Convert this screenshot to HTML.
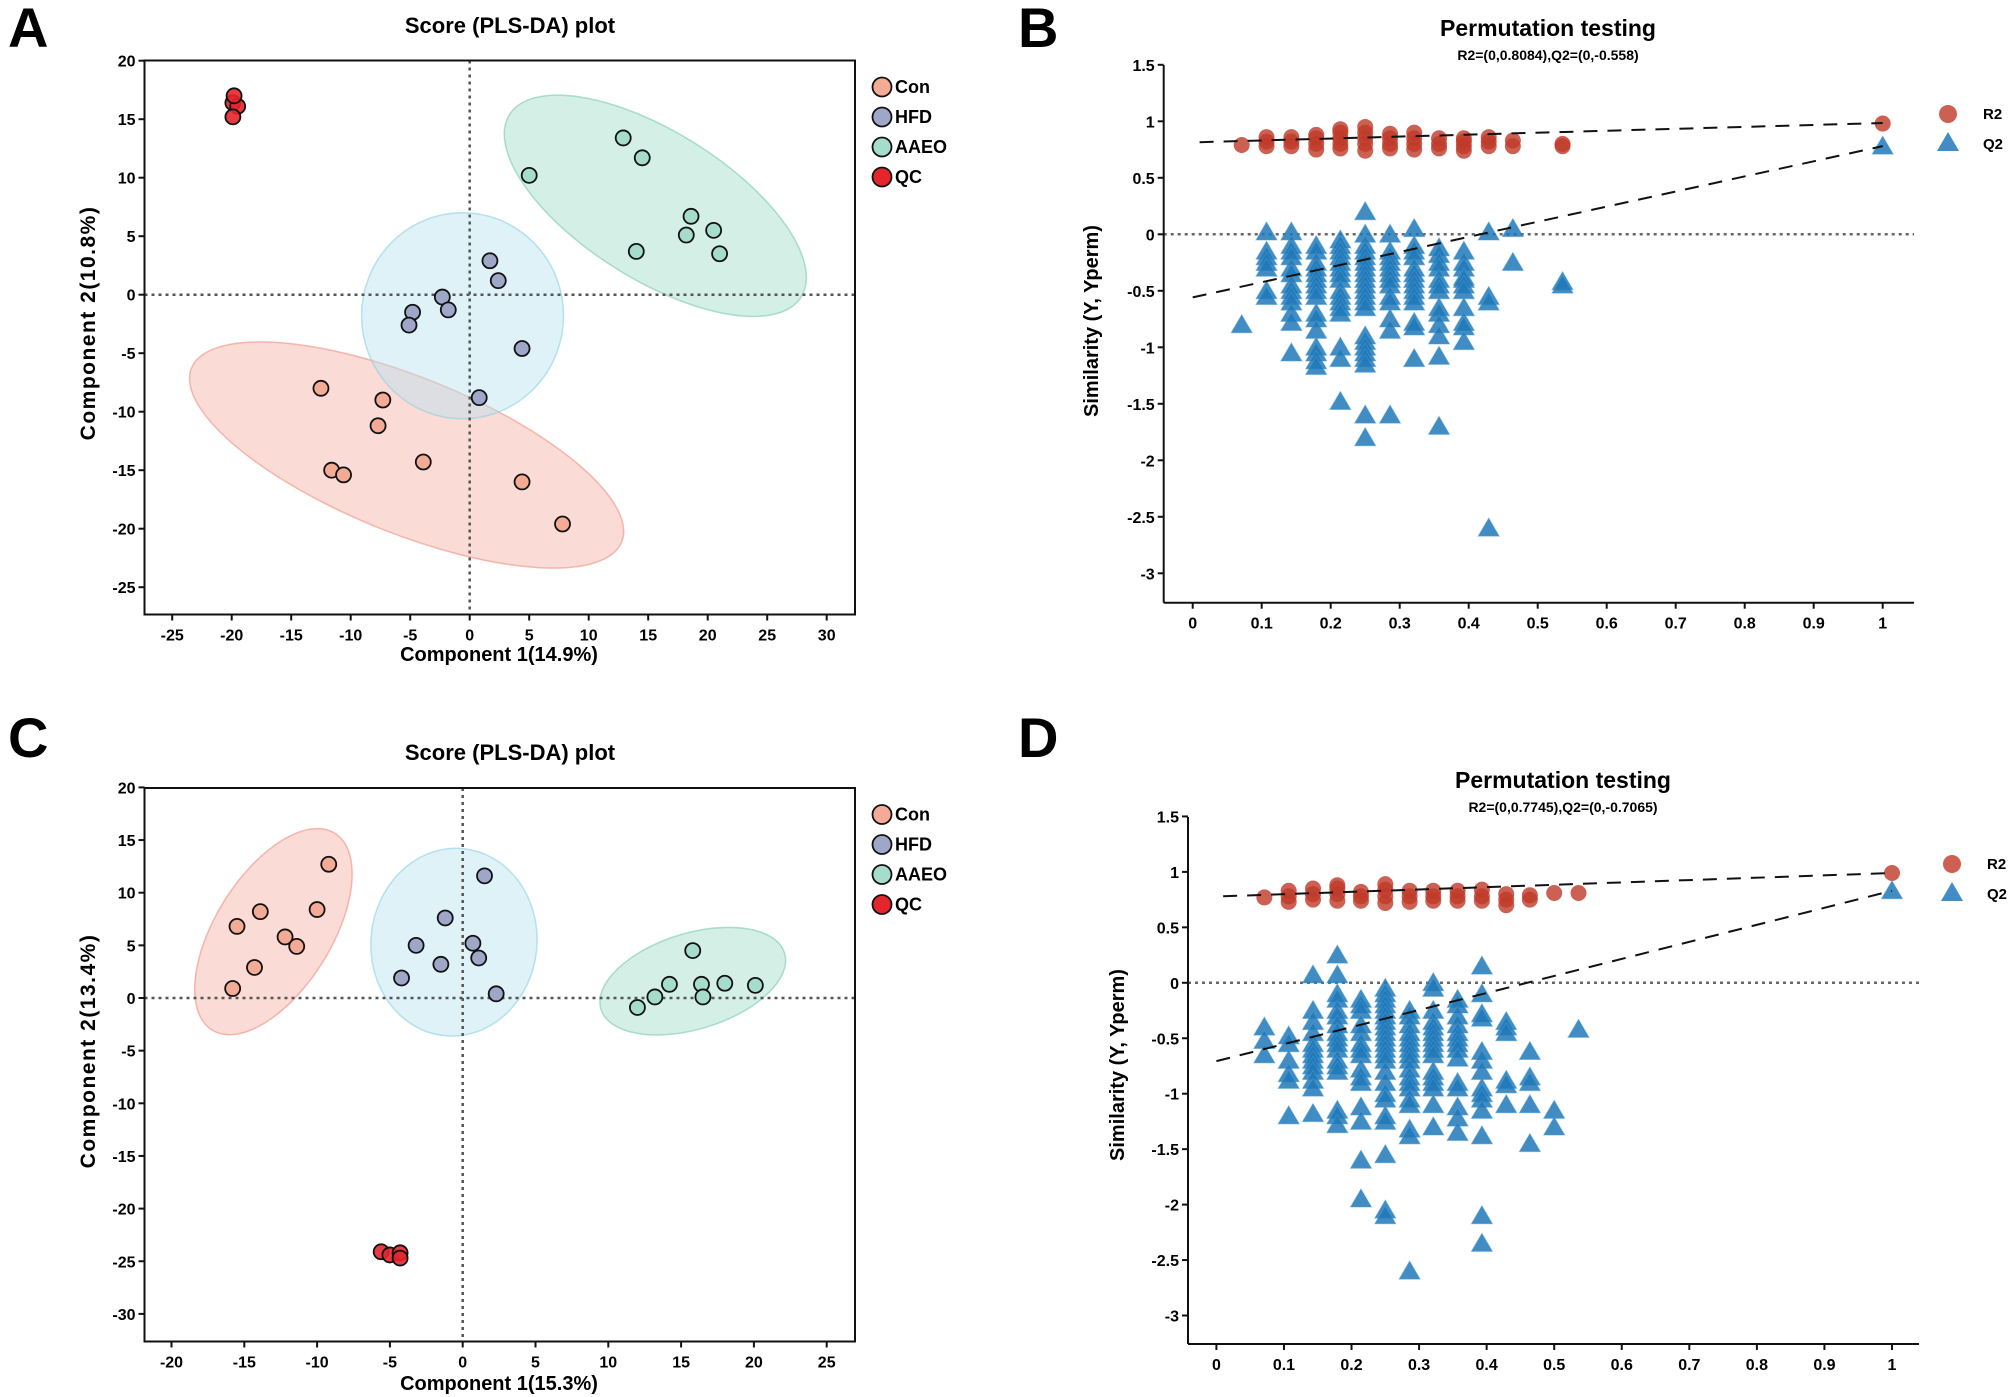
<!DOCTYPE html>
<html><head><meta charset="utf-8"><style>
html,body{margin:0;padding:0;background:#fff;}
svg{display:block;font-family:"Liberation Sans",Arial,sans-serif;}
</style></head><body>
<svg id="fig" width="2008" height="1397" viewBox="0 0 2008 1397" xmlns="http://www.w3.org/2000/svg">
<text x="8" y="47" font-size="56" font-weight="bold">A</text>
<text x="1018" y="47" font-size="56" font-weight="bold">B</text>
<text x="8" y="757" font-size="56" font-weight="bold">C</text>
<text x="1018" y="757" font-size="56" font-weight="bold">D</text>
</svg>
<script>
// ---------- Panel A data ----------
const aConX=[-12.5,-7.3,-7.7,-3.9,-11.6,-10.6,4.4,7.8];
const aConY=[-8,-9,-11.2,-14.3,-15,-15.4,-16,-19.6];
const aHfdX=[1.7,2.4,-2.3,-4.8,-1.8,-5.1,4.4,0.8];
const aHfdY=[2.9,1.2,-0.2,-1.5,-1.3,-2.6,-4.6,-8.8];
const aAaeoX=[12.9,14.5,5,18.6,20.5,18.2,14,21];
const aAaeoY=[13.4,11.7,10.2,6.7,5.5,5.1,3.7,3.5];
const aQcX=[-19.9,-19.5,-19.9,-19.8];
const aQcY=[16.4,16.1,15.2,17];
const aXTicks=[-25,-20,-15,-10,-5,0,5,10,15,20,25,30];
const aYTicks=[20,15,10,5,0,-5,-10,-15,-20,-25];
// ---------- Panel C data ----------
const cConX=[-9.2,-13.9,-10,-15.5,-12.2,-11.4,-14.3,-15.8];
const cConY=[12.7,8.2,8.4,6.8,5.8,4.9,2.9,0.9];
const cHfdX=[1.5,-1.2,-3.2,0.7,1.1,-1.5,-4.2,2.3];
const cHfdY=[11.6,7.6,5.0,5.2,3.8,3.2,1.9,0.4];
const cAaeoX=[15.8,14.2,16.4,18,20.1,13.2,16.5,12];
const cAaeoY=[4.5,1.3,1.3,1.4,1.2,0.1,0.1,-0.9];
const cQcX=[-5.6,-5,-4.3,-4.3];
const cQcY=[-24.1,-24.4,-24.2,-24.7];
const cXTicks=[-20,-15,-10,-5,0,5,10,15,20,25];
const cYTicks=[20,15,10,5,0,-5,-10,-15,-20,-25,-30];
// ---------- Panel B data ----------
const bCols=[0.071,0.107,0.143,0.179,0.214,0.25,0.286,0.321,0.357,0.393,0.429,0.464,0.536,1];
const bQ2=[[-0.8],[0.02,-0.15,-0.2,-0.25,-0.3,-0.5,-0.55],[0.02,-0.1,-0.15,-0.2,-0.3,-0.35,-0.45,-0.5,-0.55,-0.6,-0.7,-0.78,-1.05],[-0.1,-0.15,-0.25,-0.3,-0.35,-0.4,-0.45,-0.5,-0.55,-0.7,-0.75,-0.85,-1.0,-1.05,-1.12,-1.17],[-0.05,-0.1,-0.15,-0.2,-0.25,-0.3,-0.35,-0.4,-0.5,-0.55,-0.6,-0.65,-0.7,-1.0,-1.1,-1.48],[0.2,0.0,-0.1,-0.15,-0.2,-0.25,-0.3,-0.35,-0.4,-0.45,-0.5,-0.55,-0.6,-0.65,-0.9,-0.95,-1.0,-1.05,-1.1,-1.15,-1.6,-1.8],[0.0,-0.15,-0.2,-0.25,-0.3,-0.35,-0.4,-0.45,-0.55,-0.6,-0.75,-0.85,-1.6],[0.05,-0.1,-0.15,-0.2,-0.3,-0.35,-0.4,-0.45,-0.5,-0.55,-0.6,-0.78,-0.82,-1.1],[-0.12,-0.18,-0.25,-0.3,-0.4,-0.45,-0.5,-0.65,-0.7,-0.8,-0.9,-1.08,-1.7],[-0.15,-0.25,-0.3,-0.38,-0.4,-0.45,-0.5,-0.65,-0.78,-0.82,-0.95],[0.02,-0.55,-0.6,-2.6],[0.05,-0.25],[-0.42,-0.45],[0.78]];
const bR2=[[0.79],[0.78,0.82,0.86],[0.78,0.82,0.86],[0.75,0.8,0.85,0.88],[0.76,0.8,0.85,0.9,0.93],[0.74,0.8,0.85,0.9,0.95],[0.76,0.8,0.85,0.89],[0.75,0.8,0.85,0.9],[0.76,0.8,0.85],[0.74,0.78,0.82,0.85],[0.78,0.82,0.86],[0.78,0.83],[0.78,0.8],[0.98]];
const bR2Line=[0.01,0.815,1,0.985];
const bQ2Line=[0,-0.558,1,0.78];
const bXTicks=[0,0.1,0.2,0.3,0.4,0.5,0.6,0.7,0.8,0.9,1];
const bYTicks=[1.5,1,0.5,0,-0.5,-1,-1.5,-2,-2.5,-3];
// ---------- Panel D data ----------
const dCols=[0.071,0.107,0.143,0.179,0.214,0.25,0.286,0.321,0.357,0.393,0.429,0.464,0.5,0.536,1];
const dQ2=[[-0.4,-0.52,-0.65],[-0.48,-0.55,-0.7,-0.82,-0.88,-1.2],[0.07,-0.25,-0.35,-0.45,-0.55,-0.6,-0.65,-0.7,-0.75,-0.8,-0.88,-0.95,-1.18],[0.25,0.07,-0.1,-0.15,-0.25,-0.3,-0.38,-0.45,-0.5,-0.55,-0.6,-0.7,-0.75,-0.8,-1.15,-1.2,-1.28],[-0.15,-0.2,-0.25,-0.38,-0.45,-0.55,-0.6,-0.65,-0.78,-0.85,-0.9,-1.12,-1.25,-1.6,-1.95],[-0.05,-0.1,-0.15,-0.2,-0.25,-0.3,-0.35,-0.4,-0.45,-0.5,-0.55,-0.6,-0.65,-0.7,-0.8,-0.9,-1.0,-1.05,-1.2,-1.25,-1.55,-2.05,-2.1],[-0.25,-0.3,-0.38,-0.45,-0.5,-0.55,-0.6,-0.65,-0.7,-0.78,-0.85,-0.9,-0.95,-1.05,-1.1,-1.32,-1.38,-2.6],[0.0,-0.05,-0.25,-0.35,-0.4,-0.45,-0.5,-0.55,-0.6,-0.65,-0.8,-0.85,-0.9,-0.95,-1.1,-1.3],[-0.15,-0.2,-0.3,-0.38,-0.45,-0.5,-0.55,-0.6,-0.68,-0.9,-0.95,-1.12,-1.22,-1.35],[0.15,-0.1,-0.28,-0.32,-0.62,-0.7,-0.8,-0.95,-1.0,-1.05,-1.15,-1.38,-2.1,-2.35],[-0.35,-0.4,-0.45,-0.88,-0.92,-1.1],[-0.62,-0.85,-0.9,-1.1,-1.45],[-1.15,-1.3],[-0.42],[0.83]];
const dR2=[[0.77],[0.73,0.78,0.83],[0.75,0.8,0.85],[0.74,0.8,0.85,0.88],[0.74,0.78,0.82],[0.72,0.78,0.84,0.89],[0.73,0.78,0.83],[0.74,0.78,0.83],[0.74,0.78,0.83],[0.74,0.78,0.84],[0.7,0.75,0.8],[0.75,0.79],[0.81],[0.81],[0.99]];
const dR2Line=[0.01,0.78,1,0.99];
const dQ2Line=[0,-0.7065,1,0.83];
const dXTicks=[0,0.1,0.2,0.3,0.4,0.5,0.6,0.7,0.8,0.9,1];
const dYTicks=[1.5,1,0.5,0,-0.5,-1,-1.5,-2,-2.5,-3];

const NS='http://www.w3.org/2000/svg';
const svg=document.getElementById('fig');
function mk(tag,attrs,parent,txt){const e=document.createElementNS(NS,tag);for(const k in attrs)e.setAttribute(k,attrs[k]);if(txt!==undefined)e.textContent=txt;(parent||svg).appendChild(e);return e;}
const COL={con:'#f4ab96',hfd:'#9ea7c7',aaeo:'#a6dccb',qc:'#e4262c'};

function scorePanel(o){
  const g=mk('g',{});
  
  
  const sx=v=>o.x0+v*o.kx, sy=v=>o.y0-v*o.ky;
  o.ell.forEach(e=>{
    const el=mk('ellipse',{cx:sx(e[0]),cy:sy(e[1]),rx:e[2],ry:e[3],transform:`rotate(${e[4]} ${sx(e[0])} ${sy(e[1])})`,fill:e[5],'fill-opacity':0.45,stroke:e[6],'stroke-opacity':0.6,'stroke-width':1.5},g);
    
    
  });
  let z=mk('line',{x1:o.L,x2:o.R,y1:sy(0),y2:sy(0),stroke:'#555','stroke-width':2.5,'stroke-dasharray':'3 4'},g);
  
  
  z=mk('line',{x1:sx(0),x2:sx(0),y1:o.T,y2:o.B,stroke:'#555','stroke-width':2.5,'stroke-dasharray':'3 4'},g);
  
  
  o.groups.forEach(gr=>{
    gr[0].forEach((xv,i)=>{
      const c=mk('circle',{cx:sx(xv),cy:sy(gr[1][i]),r:7.5,fill:gr[2],stroke:'#111','stroke-width':1.8,'fill-opacity':gr[3]==='qc'?0.9:1},g);
      
      
    });
  });
  const f=mk('rect',{x:o.L,y:o.T,width:o.R-o.L,height:o.B-o.T,fill:'none',stroke:'#111','stroke-width':2},g);
  
  
  o.xt.forEach(v=>{
    mk('line',{x1:sx(v),x2:sx(v),y1:o.B,y2:o.B+6,stroke:'#111','stroke-width':2},g);
    const t=mk('text',{x:sx(v),y:o.B+26,'text-anchor':'middle','font-size':16,'font-weight':'bold'},g,String(v));
    
    
  });
  o.yt.forEach(v=>{
    mk('line',{x1:o.L-6,x2:o.L,y1:sy(v),y2:sy(v),stroke:'#111','stroke-width':2},g);
    const t=mk('text',{x:o.L-9,y:sy(v)+6,'text-anchor':'end','font-size':16,'font-weight':'bold'},g,String(v));
    
    
  });
  let t=mk('text',{x:510,y:o.titleY,'text-anchor':'middle','font-size':22,'font-weight':'bold'},g,'Score (PLS-DA) plot');
  
  
  t=mk('text',{x:499,y:o.xlabY,'text-anchor':'middle','font-size':20,'font-weight':'bold'},g,o.xlab);
  
  
  t=mk('text',{x:0,y:0,'text-anchor':'middle','font-size':21,'font-weight':'bold','letter-spacing':'1.5',transform:`translate(95 ${o.ylabC}) rotate(-90)`},g,o.ylab);
  
  
  const names=['Con','HFD','AAEO','QC'],cols=[COL.con,COL.hfd,COL.aaeo,COL.qc];
  names.forEach((n,i)=>{
    const ly=o.legY+i*30;
    const c=mk('circle',{cx:882,cy:ly,r:9.5,fill:cols[i],stroke:'#111','stroke-width':1.8},g);
    
    
    const lt=mk('text',{x:895,y:ly+6,'font-size':18,'font-weight':'bold'},g,n);
    
    
  });
}

scorePanel({name:'panel-a-score-plot',L:144.5,R:855,T:60.5,B:614.5,x0:469.7,kx:11.9,y0:294.7,ky:11.7,
  xt:aXTicks,yt:aYTicks,titleY:33,xlabY:661,xlab:'Component 1(14.9%)',ylab:'Component 2(10.8%)',ylabC:323,legY:87,
  ell:[[-5.3,-13.7,232,78,22,'#f4b0a5','#f08f80','ellipse-con'],[-0.6,-1.8,101,103,0,'#b9e3ef','#8fd0e3','ellipse-hfd'],[15.6,7.6,172,74,32,'#9fdcc8','#7ccab2','ellipse-aaeo']],
  groups:[[aConX,aConY,COL.con,'con'],[aHfdX,aHfdY,COL.hfd,'hfd'],[aAaeoX,aAaeoY,COL.aaeo,'aaeo'],[aQcX,aQcY,COL.qc,'qc']]});
scorePanel({name:'panel-c-score-plot',L:144.5,R:855,T:788,B:1341.5,x0:462.7,kx:14.56,y0:998,ky:10.53,
  xt:cXTicks,yt:cYTicks,titleY:760,xlabY:1390,xlab:'Component 1(15.3%)',ylab:'Component 2(13.4%)',ylabC:1051,legY:814.5,
  ell:[[-13,6.3,116,58,-58,'#f4b0a5','#f08f80','ellipse-con'],[-0.6,5.3,83,94,6,'#b9e3ef','#8fd0e3','ellipse-hfd'],[15.8,1.6,96,48,-17,'#9fdcc8','#7ccab2','ellipse-aaeo']],
  groups:[[cConX,cConY,COL.con,'con'],[cHfdX,cHfdY,COL.hfd,'hfd'],[cAaeoX,cAaeoY,COL.aaeo,'aaeo'],[cQcX,cQcY,COL.qc,'qc']]});

function permPanel(o){
  const g=mk('g',{});
  
  
  const sx=v=>o.x0+v*o.kx, sy=v=>o.y0-v*o.ky;
  let z=mk('line',{x1:o.L,x2:o.R,y1:sy(0),y2:sy(0),stroke:'#666','stroke-width':2.5,'stroke-dasharray':'3 4'},g);
  
  
  o.q2.forEach((arr,i)=>arr.forEach(v=>{
    const cx=sx(o.cols[i]),cy=sy(v);
    const p=mk('polygon',{points:`${cx-10.5},${cy+8} ${cx+10.5},${cy+8} ${cx},${cy-10}`,fill:'#1f78b8','fill-opacity':0.85,stroke:'#4a9ad0','stroke-opacity':0.5,'stroke-width':1},g);
    
    
  }));
  o.r2.forEach((arr,i)=>arr.forEach(v=>{
    const c=mk('circle',{cx:sx(o.cols[i]),cy:sy(v),r:8,fill:'#bf3a28','fill-opacity':0.8},g);
    
    
  }));
  [[o.r2l,'r2-regression-line'],[o.q2l,'q2-regression-line']].forEach(l=>{
    const ln=mk('line',{x1:sx(l[0][0]),y1:sy(l[0][1]),x2:sx(l[0][2]),y2:sy(l[0][3]),stroke:'#111','stroke-width':2,'stroke-dasharray':'14 10'},g);
    
    
  });
  mk('line',{x1:o.L,x2:o.L,y1:o.T,y2:o.B,stroke:'#111','stroke-width':2},g);
  mk('line',{x1:o.L,x2:o.R,y1:o.B,y2:o.B,stroke:'#111','stroke-width':2},g);
  o.xt.forEach(v=>{
    mk('line',{x1:sx(v),x2:sx(v),y1:o.B,y2:o.B+6,stroke:'#111','stroke-width':2},g);
    const t=mk('text',{x:sx(v),y:o.B+26,'text-anchor':'middle','font-size':16,'font-weight':'bold'},g,String(v));
    
    
  });
  o.yt.forEach(v=>{
    mk('line',{x1:o.L-6,x2:o.L,y1:sy(v),y2:sy(v),stroke:'#111','stroke-width':2},g);
    const t=mk('text',{x:o.L-9,y:sy(v)+6,'text-anchor':'end','font-size':16,'font-weight':'bold'},g,String(v));
    
    
  });
  let t=mk('text',{x:o.tx,y:o.ty,'text-anchor':'middle','font-size':23,'font-weight':'bold'},g,'Permutation testing');
  
  
  t=mk('text',{x:o.tx,y:o.ty+24,'text-anchor':'middle','font-size':14,'font-weight':'bold'},g,o.sub);
  
  
  t=mk('text',{x:0,y:0,'text-anchor':'middle','font-size':20,'font-weight':'bold',transform:`translate(${o.ylx} ${o.ylc}) rotate(-90)`},g,'Similarity (Y, Yperm)');
  
  
  const lc=mk('circle',{cx:o.lx,cy:o.ly,r:9,fill:'#bf3a28','fill-opacity':0.8},g);
  
  
  const lp=mk('polygon',{points:`${o.lx-11},${o.ly+37} ${o.lx+11},${o.ly+37} ${o.lx},${o.ly+18}`,fill:'#1f78b8','fill-opacity':0.85},g);
  
  
  let lt=mk('text',{x:o.lx+35,y:o.ly+5,'font-size':15,'font-weight':'bold'},g,'R2');
  
  
  lt=mk('text',{x:o.lx+35,y:o.ly+35,'font-size':15,'font-weight':'bold'},g,'Q2');
  
  
}
permPanel({name:'panel-b-permutation',L:1163.7,R:1914,T:65,B:602.7,x0:1192.7,kx:690,y0:234.3,ky:113,
  cols:bCols,q2:bQ2,r2:bR2,r2l:bR2Line,q2l:bQ2Line,xt:bXTicks,yt:bYTicks,tx:1548,ty:36,sub:'R2=(0,0.8084),Q2=(0,-0.558)',
  ylx:1098,ylc:321,lx:1948,ly:114});
permPanel({name:'panel-d-permutation',L:1188,R:1919,T:817,B:1344,x0:1216.4,kx:675.6,y0:982.8,ky:110.9,
  cols:dCols,q2:dQ2,r2:dR2,r2l:dR2Line,q2l:dQ2Line,xt:dXTicks,yt:dYTicks,tx:1563,ty:788,sub:'R2=(0,0.7745),Q2=(0,-0.7065)',
  ylx:1124,ylc:1065,lx:1952,ly:864});
</script>
</body></html>
